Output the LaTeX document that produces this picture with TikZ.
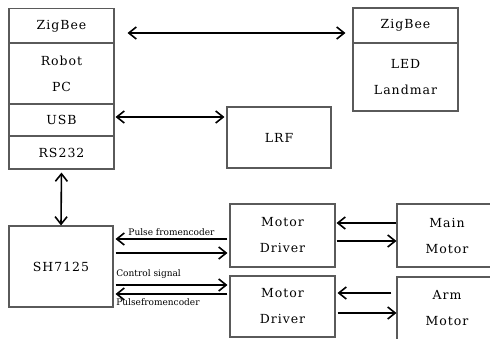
\documentclass[tikz,border=0pt]{standalone}
\usepackage{fontspec}
\setmainfont{DejaVu Serif}[LetterSpace=8]
\newfontfamily\sigfont{DejaVu Serif}
\usetikzlibrary{positioning,arrows.meta,calc}
\definecolor{boxGray}{RGB}{90,90,90}

\begin{document}
\begin{tikzpicture}[
    x=1pt, y=-1pt,
    blk/.style={rectangle, draw=boxGray, line width=1.1pt, minimum width=105pt, align=center, font=\fontsize{12.5}{26}\selectfont, inner sep=0pt},
    link/.style={line width=1.6pt, -{Straight Barb[length=7.5pt,width=12pt,line width=1.6pt]}},
    both/.style={link, {Straight Barb[length=7.5pt,width=12pt,line width=1.6pt]}-{Straight Barb[length=7.5pt,width=12pt,line width=1.6pt]}},
    sig note/.style={font=\sigfont\fontsize{9}{10}\selectfont, inner sep=1pt}
]
  \useasboundingbox (0,0) rectangle (490,338);

  % robot PC stack
  \node[blk, minimum height=35pt] (zbA) at (61.5,26) {ZigBee};
  \node[blk, minimum height=61pt] (pc) at (61.5,73.5) {Robot\\PC};
  \node[blk, minimum height=32pt] (usb) at (61.5,120) {USB};
  \node[blk, minimum height=33pt] (rs) at (61.5,152.5) {RS232};

  % landmark
  \node[blk, minimum height=35pt] (zbB) at (405.5,25.5) {ZigBee};
  \node[blk, minimum height=68pt] (led) at (405.5,77) {LED\\Landmar};

  \node[blk, minimum width=104pt, minimum height=61pt] (lrf) at (279,137.5) {LRF};
  \node[blk, minimum width=104pt, minimum height=81pt] (sh) at (61,266.5) {SH7125};

  % drivers and motors
  \node[blk, minimum height=63pt] (drvA) at (282.5,235.5) {Motor\\Driver};
  \node[blk, minimum height=61pt] (drvB) at (282.5,306.5) {Motor\\Driver};
  \node[blk, minimum width=100pt, minimum height=63pt] (mainM) at (447,235.5) {Main\\Motor};
  \node[blk, minimum width=100pt, minimum height=63pt] (armM) at (447,308.5) {Arm\\Motor};

  \draw[both, shorten <=13pt, shorten >=7pt] ([yshift=-7pt]zbA.east) -- ([yshift=-7pt]zbA.east -| zbB.west);
  \draw[both, shorten <=1pt, shorten >=2pt] ([yshift=3pt]usb.east) -- ([yshift=3pt]usb.east -| lrf.west);
  \draw[both, shorten <=3pt] (rs.south) -- (sh.north);

  \draw[link, shorten <=2pt, shorten >=2pt] ([yshift=-3.5pt]drvA.west) -- ([yshift=-3.5pt]drvA.west -| sh.east)
    node[sig note, midway, above=2pt] {Pulse fromencoder};
  \draw[link, shorten <=2pt, shorten >=2pt] ([yshift=-17.5pt]drvA.west -| sh.east) -- ([yshift=-17.5pt]drvA.west);
  \draw[link, shorten <=2pt, shorten >=2pt] ([yshift=21.5pt]drvB.west -| sh.east) -- ([yshift=21.5pt]drvB.west)
    node[sig note, pos=0, above right=5pt and 1pt] {Control signal};
  \draw[link, shorten <=2pt, shorten >=2pt] ([yshift=12.5pt]drvB.west) -- ([yshift=12.5pt]drvB.west -| sh.east)
    node[sig note, pos=1, below right=2.5pt and 1pt] {Pulsefromencoder};

  \draw[link, shorten <=0pt, shorten >=1pt] ([yshift=12.5pt]mainM.west) -- ([yshift=12.5pt]mainM.west -| drvA.east);
  \draw[link, shorten <=1pt, shorten >=0pt] ([yshift=-5.5pt]drvA.east) -- ([yshift=-5.5pt]drvA.east -| mainM.west);
  \draw[link, shorten <=5pt, shorten >=2pt] ([yshift=15.5pt]armM.west) -- ([yshift=15.5pt]armM.west -| drvB.east);
  \draw[link, shorten <=2pt, shorten >=0pt] ([yshift=-6.5pt]drvB.east) -- ([yshift=-6.5pt]drvB.east -| armM.west);
\end{tikzpicture}
\end{document}
